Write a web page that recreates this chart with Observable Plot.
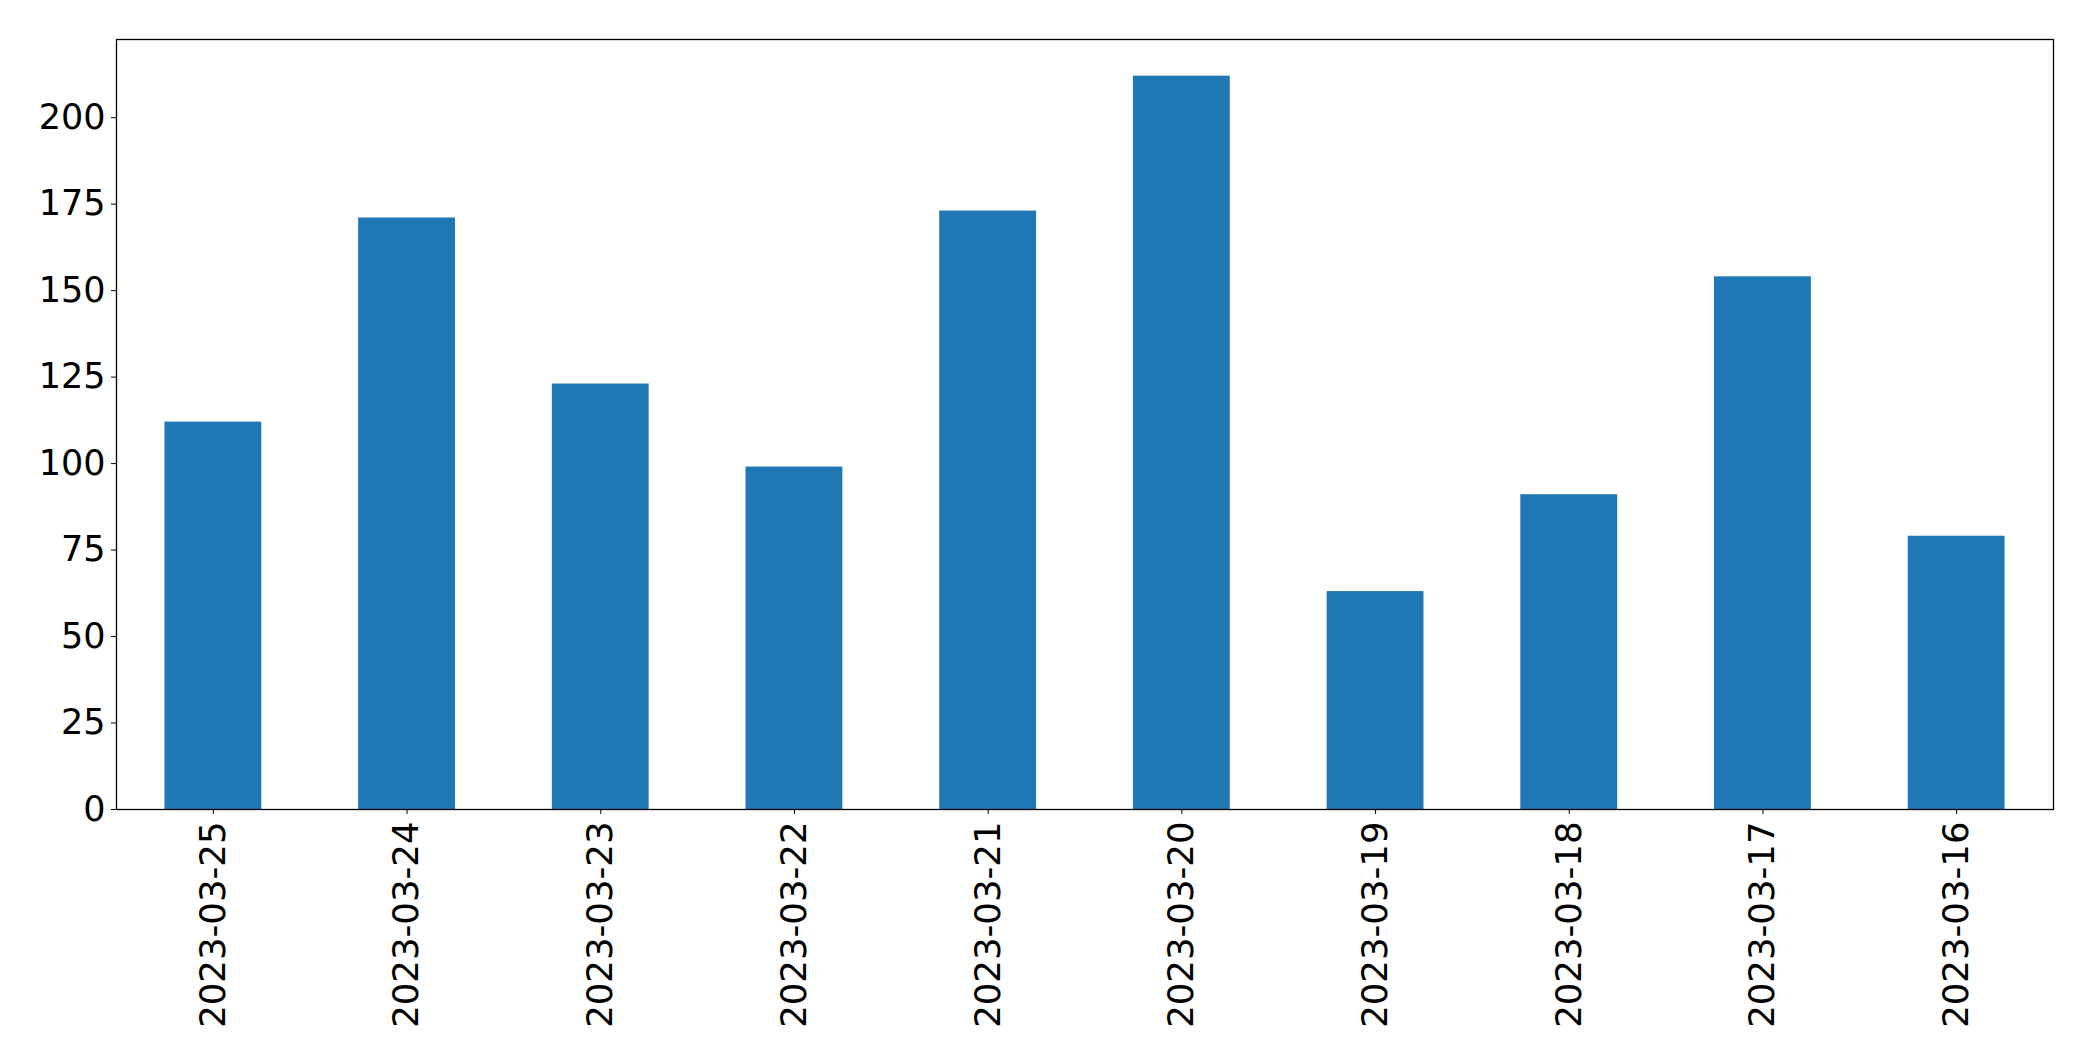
<!DOCTYPE html>
<html>
<head>
<meta charset="utf-8">
<script src="https://cdn.jsdelivr.net/npm/d3@7"></script>
<script src="https://cdn.jsdelivr.net/npm/@observablehq/plot@0.6"></script>
<style>
  html, body { margin: 0; padding: 0; background: white; }
</style>
</head>
<body>
<div id="chart"></div>
<script>
const dates = ["2023-03-25","2023-03-24","2023-03-23","2023-03-22","2023-03-21","2023-03-20","2023-03-19","2023-03-18","2023-03-17","2023-03-16"];
const counts = [112, 171, 123, 99, 173, 212, 63, 91, 154, 79];
const yTicks = [0, 25, 50, 75, 100, 125, 150, 175, 200];

const data = dates.map((d, i) => ({date: d, count: counts[i]}));

const chart = Plot.plot({
  width: 2093,
  height: 1061,
  marginLeft: 116,
  marginRight: 40,
  marginTop: 39,
  marginBottom: 252,
  style: {fontFamily: "DejaVu Sans", fontSize: "35px", color: "black", background: "white"},
  x: {type: "band", domain: dates, paddingInner: 0.5, paddingOuter: 0.25, round: false, label: null},
  y: {domain: [0, d3.max(counts) * 1.05], label: null},
  marks: [
    Plot.barY(data, {x: "date", y: "count", fill: "#1f77b4"}),
    Plot.axisX({tickRotate: -90, tickSize: 5, tickPadding: 7, label: null, fontSize: 35.5}),
    Plot.axisY({ticks: yTicks, tickSize: 5, tickPadding: 6, label: null, fontSize: 35}),
    Plot.frame({stroke: "black", strokeWidth: 1.3})
  ]
});
document.getElementById("chart").appendChild(chart);
</script>
</body>
</html>
